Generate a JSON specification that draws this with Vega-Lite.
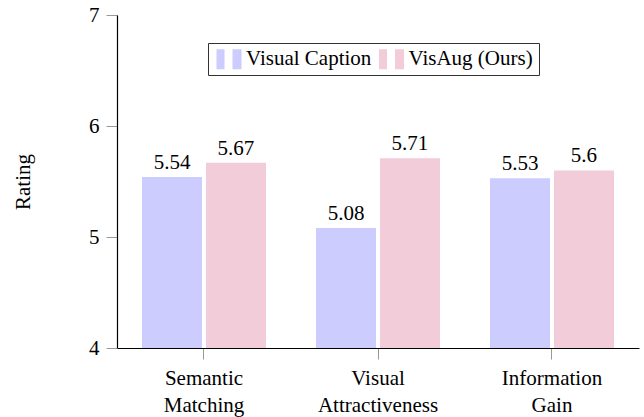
{
  "$schema": "https://vega.github.io/schema/vega-lite/v6.json",
  "autosize": {"type": "none"},
  "width": 522,
  "height": 333,
  "padding": {"left": 117, "top": 15, "right": 5, "bottom": 69},
  "background": "white",
  "config": {
    "view": {"stroke": null},
    "font": "Liberation Serif",
    "axis": {"labelFont": "Liberation Serif", "titleFont": "Liberation Serif", "labelColor": "black", "titleColor": "black"},
    "legend": {"labelFont": "Liberation Serif"}
  },
  "data": {
    "values": [
      {"aspect": "Semantic Matching", "method": "Visual Caption", "rating": 5.54},
      {"aspect": "Semantic Matching", "method": "VisAug (Ours)", "rating": 5.67},
      {"aspect": "Visual Attractiveness", "method": "Visual Caption", "rating": 5.08},
      {"aspect": "Visual Attractiveness", "method": "VisAug (Ours)", "rating": 5.71},
      {"aspect": "Information Gain", "method": "Visual Caption", "rating": 5.53},
      {"aspect": "Information Gain", "method": "VisAug (Ours)", "rating": 5.6}
    ]
  },
  "encoding": {
    "x": {
      "field": "aspect", "type": "nominal", "sort": null,
      "scale": {"paddingInner": 0.2874, "paddingOuter": 0.1437},
      "axis": {
        "title": null, "labelAngle": 0, "labelExpr": "split(datum.label, ' ')",
        "labelFontSize": 21, "labelLineHeight": 27, "labelPadding": 8,
        "tickSize": 11, "tickColor": "#999999", "domainColor": "black", "domainWidth": 1.2
      }
    },
    "xOffset": {
      "field": "method", "type": "nominal", "sort": ["Visual Caption", "VisAug (Ours)"],
      "scale": {"paddingInner": 0.0625, "paddingOuter": 0}
    },
    "y": {
      "field": "rating", "type": "quantitative",
      "scale": {"domain": [4, 7], "zero": false, "nice": false},
      "axis": {
        "title": "Rating", "titleFontSize": 21, "titleFontWeight": "normal",
        "titleX": -84, "titleY": 166.5, "titleAngle": -90, "titleBaseline": "bottom",
        "values": [4, 5, 6, 7], "format": "d", "grid": false,
        "labelFontSize": 21, "labelPadding": 7,
        "tickSize": 11, "tickColor": "#999999", "domainColor": "black", "domainWidth": 1.2
      }
    }
  },
  "layer": [
    {
      "mark": {"type": "bar", "clip": true},
      "encoding": {
        "color": {
          "field": "method", "type": "nominal",
          "scale": {"domain": ["Visual Caption", "VisAug (Ours)"], "range": ["#ccccff", "#f2ccd9"]},
          "legend": {
            "title": null, "orient": "none", "legendX": 91, "legendY": 28,
            "direction": "horizontal",
            "symbolType": "M-0.75,-1H0.05V1H-0.75Z M0.85,-1H1.75V1H0.85Z",
            "symbolSize": 400, "symbolStrokeWidth": 0, "symbolOpacity": 1,
            "labelFontSize": 21, "labelOffset": 11.5, "columnPadding": 4.5,
            "padding": 5.5, "strokeColor": "#333333", "fillColor": "white",
            "labelColor": "black"
          }
        }
      }
    },
    {
      "mark": {"type": "text", "baseline": "alphabetic", "dy": -8, "fontSize": 21, "color": "black"},
      "encoding": {
        "text": {"field": "rating", "type": "quantitative", "format": ".3~g"}
      }
    }
  ]
}
